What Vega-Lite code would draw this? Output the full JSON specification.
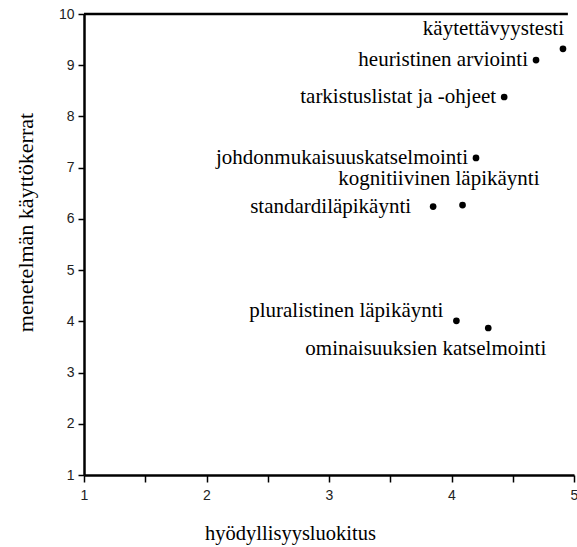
{
  "$schema": "https://vega.github.io/schema/vega-lite/v6.json",
  "autosize": "none",
  "width": 490,
  "height": 461,
  "padding": {"left": 84, "top": 14, "right": 3, "bottom": 72},
  "background": "white",
  "config": {
    "view": {"stroke": null},
    "axis": {"grid": false, "domainColor": "black", "tickColor": "black", "labelFont": "Liberation Sans", "labelFontSize": 14, "labelColor": "#222", "titleFont": "Liberation Serif", "titleFontWeight": "normal", "titleColor": "black"}
  },
  "data": {"values": [
    {"menetelma": "käytettävyystesti", "x": 4.91, "y": 9.32, "pos": "a"},
    {"menetelma": "heuristinen arviointi", "x": 4.69, "y": 9.1, "pos": "l"},
    {"menetelma": "tarkistuslistat ja -ohjeet", "x": 4.43, "y": 8.38, "pos": "l"},
    {"menetelma": "johdonmukaisuuskatselmointi", "x": 4.2, "y": 7.19, "pos": "l"},
    {"menetelma": "kognitiivinen läpikäynti", "x": 4.09, "y": 6.27, "pos": "k"},
    {"menetelma": "standardiläpikäynti", "x": 3.85, "y": 6.24, "pos": "s"},
    {"menetelma": "pluralistinen läpikäynti", "x": 4.04, "y": 4.01, "pos": "p"},
    {"menetelma": "ominaisuuksien katselmointi", "x": 4.3, "y": 3.87, "pos": "o"}
  ]},
  "encoding": {
    "x": {"field": "x", "type": "quantitative", "scale": {"domain": [1, 5], "nice": false, "zero": false},
      "axis": {"title": "hyödyllisyysluokitus", "titleFontSize": 20.5, "values": [1, 1.5, 2, 2.5, 3, 3.5, 4, 4.5, 5], "labelExpr": "datum.value % 1 === 0 ? format(datum.value, 'd') : ''", "domainWidth": 2.5, "tickWidth": 1.5, "tickSize": 7, "labelPadding": 6, "labelFlush": false, "labelBound": false, "titleX": 206, "titleY": 58, "titleBaseline": "middle", "titleAnchor": "middle", "titleAlign": "center"}},
    "y": {"field": "y", "type": "quantitative", "scale": {"domain": [1, 10], "nice": false, "zero": false},
      "axis": {"title": "menetelmän käyttökerrat", "titleFontSize": 22, "values": [1, 2, 3, 4, 5, 6, 7, 8, 9, 10], "domainWidth": 2.5, "tickWidth": 1.5, "tickSize": 6, "labelPadding": 4, "titleX": -59, "titleY": 208, "titleAngle": -90, "titleBaseline": "middle", "titleAlign": "center", "titleAnchor": "middle", "labelFlush": false}}
  },
  "layer": [
    {"mark": {"type": "rule", "color": "black", "strokeWidth": 2.5}, "data": {"values": [{"a": 1, "b": 4.95, "t": 10}]},
      "encoding": {"x": {"field": "a", "type": "quantitative"}, "x2": {"field": "b"}, "y": {"field": "t", "type": "quantitative"}}},
    {"mark": {"type": "circle", "color": "black", "opacity": 1, "size": 45}},
    {"transform": [{"filter": "datum.pos === 'a'"}], "mark": {"type": "text", "font": "Liberation Serif", "fontSize": 21, "align": "right", "baseline": "middle", "dy": -20, "dx": 1, "color": "black"}, "encoding": {"text": {"field": "menetelma"}}},
    {"transform": [{"filter": "datum.pos === 'l'"}], "mark": {"type": "text", "font": "Liberation Serif", "fontSize": 21, "align": "right", "baseline": "middle", "dx": -8, "dy": 0, "color": "black"}, "encoding": {"text": {"field": "menetelma"}}},
    {"transform": [{"filter": "datum.pos === 'k'"}], "mark": {"type": "text", "font": "Liberation Serif", "fontSize": 21, "align": "right", "baseline": "middle", "dx": 77, "dy": -26, "color": "black"}, "encoding": {"text": {"field": "menetelma"}}},
    {"transform": [{"filter": "datum.pos === 's'"}], "mark": {"type": "text", "font": "Liberation Serif", "fontSize": 21, "align": "right", "baseline": "middle", "dx": -22, "dy": 0, "color": "black"}, "encoding": {"text": {"field": "menetelma"}}},
    {"transform": [{"filter": "datum.pos === 'p'"}], "mark": {"type": "text", "font": "Liberation Serif", "fontSize": 21, "align": "right", "baseline": "middle", "dx": -13, "dy": -10, "color": "black"}, "encoding": {"text": {"field": "menetelma"}}},
    {"transform": [{"filter": "datum.pos === 'o'"}], "mark": {"type": "text", "font": "Liberation Serif", "fontSize": 21, "align": "right", "baseline": "middle", "dx": 58, "dy": 21, "color": "black"}, "encoding": {"text": {"field": "menetelma"}}}
  ]
}
